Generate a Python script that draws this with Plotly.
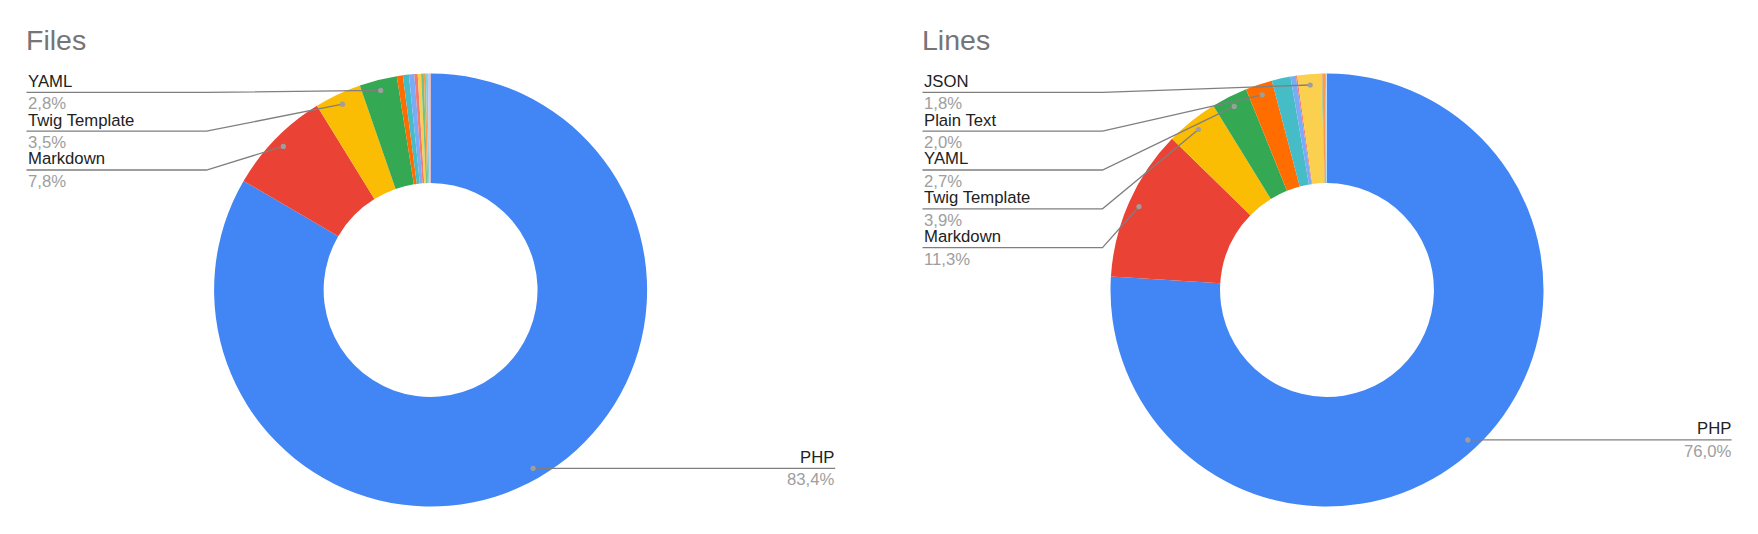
import math
import plotly.graph_objects as go

W, H = 1758, 534

# ---- data ----
files_labels = ["PHP", "Markdown", "Twig Template", "YAML", "JSON", "Plain Text",
                "JavaScript", "XML", "CSS", "Shell", "SQL", "HTML", "SVG", "INI"]
files_values = [83.4, 7.8, 3.5, 2.8, 0.45, 0.45, 0.4, 0.25, 0.25, 0.2, 0.15, 0.15, 0.1, 0.1]

lines_labels = ["PHP", "Markdown", "Twig Template", "YAML", "Plain Text", "JavaScript",
                "XML", "CSS", "JSON", "Shell", "SQL", "HTML", "INI"]
lines_values = [76.0, 11.3, 3.9, 2.7, 2.0, 1.4, 0.4, 0.1, 1.8, 0.05, 0.2, 0.1, 0.05]

files_left = ["YAML", "Twig Template", "Markdown"]
files_right = ["PHP"]
lines_left = ["JSON", "Plain Text", "YAML", "Twig Template", "Markdown"]
lines_right = ["PHP"]

palette = ["#4285F4", "#EA4335", "#FBBC04", "#34A853", "#FF6D01", "#46BDC6",
           "#7BAAF7", "#F07B72", "#FCD04F", "#71C287", "#FF994D", "#7ED1D7",
           "#B3CEFB", "#F7A7A1", "#FDDE83", "#A0D6AF"]

FONT = "Liberation Sans, Arial, sans-serif"
NAME_C = "#222222"
PCT_C = "#9e9e9e"
LINE_C = "#7f7f7f"
DOT_C = "#9e9e9e"
FS = 16.7

charts = [
    dict(title="Files", labels=files_labels, values=files_values, left=files_left,
         right=files_right, cx=430.6, cy=290.0, R=216.5, colx=26.5, titlex=24.5),
    dict(title="Lines", labels=lines_labels, values=lines_values, left=lines_left,
         right=lines_right, cx=1327.0, cy=290.0, R=216.5, colx=922.5, titlex=921.0),
]

def px(x):
    return x / W

def py(y):
    return 1 - y / H

fig = go.Figure()
annotations = []
shapes = []

def add_text(x, y, text, color, size, xanchor):
    annotations.append(dict(x=px(x), y=py(y), xref="paper", yref="paper", text=text,
                            showarrow=False, xanchor=xanchor, yanchor="middle",
                            borderpad=0, font=dict(family=FONT, size=size, color=color)))

for ch in charts:
    cx, cy, R = ch["cx"], ch["cy"], ch["R"]
    fig.add_trace(go.Pie(
        labels=ch["labels"], values=ch["values"], hole=0.494, sort=False,
        direction="clockwise", rotation=0, textinfo="none", hoverinfo="label+percent",
        marker=dict(colors=palette[:len(ch["labels"])], line=dict(width=0)),
        domain=dict(x=[px(cx - R), px(cx + R)], y=[py(cy + R), py(cy - R)]),
        showlegend=False,
    ))
    total = sum(ch["values"])
    mids = {}
    acc = 0.0
    for lab, v in zip(ch["labels"], ch["values"]):
        mids[lab] = (acc + v / 2) / total
        acc += v
    pct = {lab: f"{100 * v / total:.1f}".replace(".", ",") + "%" for lab, v in zip(ch["labels"], ch["values"])}

    def dot(lab):
        th = 2 * math.pi * mids[lab]
        return cx + 0.95 * R * math.sin(th), cy - 0.95 * R * math.cos(th)

    def add_dot(x, y):
        r = 2.6
        shapes.append(dict(type="circle", xref="paper", yref="paper",
                           x0=px(x - r), x1=px(x + r), y0=py(y + r), y1=py(y - r),
                           fillcolor=DOT_C, line=dict(width=0), layer="above"))

    # title
    add_text(ch["titlex"], 39.7, ch["title"], "#757575", 28.5, "left")

    # left-side labels
    for i, lab in enumerate(ch["left"]):
        ly = 92.3 + 38.85 * i
        x0 = ch["colx"]
        x1 = x0 + 180
        dx, dy = dot(lab)
        shapes.append(dict(type="path", xref="paper", yref="paper",
                           path=f"M {px(x0)},{py(ly)} L {px(x1)},{py(ly)} L {px(dx)},{py(dy)}",
                           line=dict(color=LINE_C, width=1.3), layer="above"))
        add_dot(dx, dy)
        add_text(x0, ly - 11.1, lab, NAME_C, FS, "left")
        add_text(x0, ly + 11.3, pct[lab], PCT_C, FS, "left")

    # right-side labels
    for lab in ch["right"]:
        dx, dy = dot(lab)
        xe = cx + 404.6
        shapes.append(dict(type="path", xref="paper", yref="paper",
                           path=f"M {px(dx)},{py(dy)} L {px(xe)},{py(dy)}",
                           line=dict(color=LINE_C, width=1.3), layer="above"))
        add_dot(dx, dy)
        add_text(xe, dy - 11.1, lab, NAME_C, FS, "right")
        add_text(xe, dy + 11.4, pct[lab], PCT_C, FS, "right")

fig.update_layout(
    width=W, height=H, margin=dict(l=0, r=0, t=0, b=0),
    paper_bgcolor="white", plot_bgcolor="white",
    annotations=annotations, shapes=shapes,
    font=dict(family=FONT),
)

fig.write_html("out.html", config={"displayModeBar": False},
               post_script="document.body.style.margin='0';document.body.style.overflow='hidden';")
